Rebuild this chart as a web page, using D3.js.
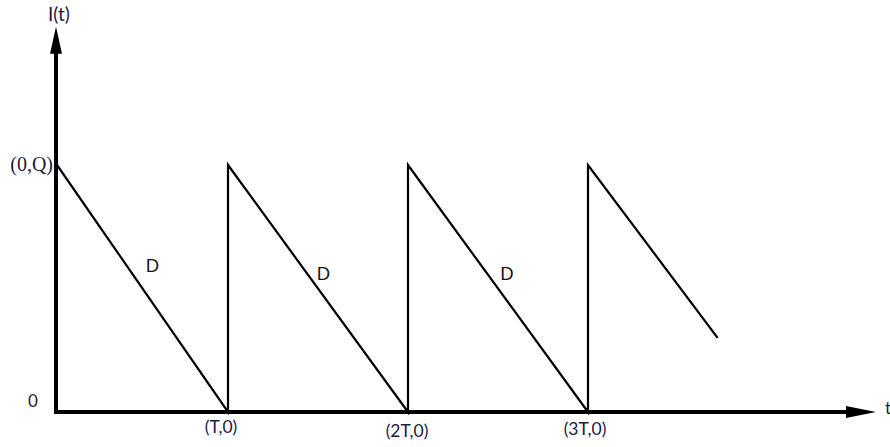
<!DOCTYPE html>
<html><head><meta charset="utf-8">
<script src="https://cdn.jsdelivr.net/npm/d3@7"></script>
<style>body{margin:0;background:#fff}svg{display:block}</style>
</head><body>
<svg id="c" width="890" height="447"></svg>
<script>
// Sawtooth inventory curve (t in units, I relative to Q)
const sawT = [0, 0.95, 0.95, 1.95, 1.95, 2.95, 2.95, 3.67];
const sawI = [1, 0, 1, 0, 1, 0, 1, 0.30];
const tickT = [0.95, 1.95, 2.95];
const tickLabels = ["(T,0)", "(2T,0)", "(3T,0)"];
const dLabelT = [0.53, 1.48, 2.50];
const dLabelI = [0.59, 0.56, 0.56];

const svg = d3.select("#c");
const x = d3.scaleLinear().domain([0, 4.55]).range([57, 876]);
const y = d3.scaleLinear().domain([0, 1]).range([412, 165]);
const tMax = 4.55, iMax = 1.56;

// axes
svg.append("line").attr("x1", x(0)-1).attr("y1", y(0)).attr("x2", x(0)-1).attr("y2", y(iMax)+20)
  .attr("stroke", "#000").attr("stroke-width", 4);
svg.append("line").attr("x1", x(0)-3).attr("y1", y(0)).attr("x2", x(tMax)-22).attr("y2", y(0))
  .attr("stroke", "#000").attr("stroke-width", 4);
// arrowheads
svg.append("path").attr("d", `M${x(0)-1},${y(iMax)} L${x(0)-7},${y(iMax)+27} L${x(0)+5},${y(iMax)+27} Z`).attr("fill", "#000");
svg.append("path").attr("d", `M${x(tMax)},${y(0)} L${x(tMax)-30},${y(0)-6} L${x(tMax)-30},${y(0)+6} Z`).attr("fill", "#000");

// sawtooth
const pts = sawT.map((t, i) => [t, sawI[i]]);
svg.append("path").datum(pts)
  .attr("d", d3.line().x(d => x(d[0])).y(d => y(d[1])))
  .attr("fill", "none").attr("stroke", "#000").attr("stroke-width", 2.2);

const sans = "Lato, 'Open Sans', sans-serif";
const col = "#1c1c40";
// labels
svg.append("text").attr("x", x(0)+2).attr("y", 21).attr("text-anchor", "middle")
  .attr("font-family", sans).attr("font-size", 19).attr("fill", col).text("I(t)");
svg.append("text").attr("x", x(0)-4).attr("y", y(1)+6).attr("text-anchor", "end")
  .attr("font-family", "'Liberation Serif', serif").attr("font-size", 20).attr("fill", col).text("(0,Q)");
svg.append("text").attr("x", 33).attr("y", 407).attr("text-anchor", "middle")
  .attr("font-family", sans).attr("font-size", 17).attr("fill", col).text("0");
svg.append("text").attr("x", 885).attr("y", 414).attr("text-anchor", "start")
  .attr("font-family", sans).attr("font-size", 17).attr("fill", col).text("t");

const tickDy = [433, 437, 435];
svg.selectAll(".tl").data(tickT).enter().append("text")
  .attr("x", (d, i) => x(d) - [7, 1, 3][i]).attr("y", (d, i) => tickDy[i])
  .attr("text-anchor", "middle").attr("font-family", sans).attr("font-size", 17.5).attr("fill", col)
  .text((d, i) => tickLabels[i]);

svg.selectAll(".dl").data(dLabelT).enter().append("text")
  .attr("x", d => x(d)).attr("y", (d, i) => y(dLabelI[i]) + 6)
  .attr("text-anchor", "middle").attr("font-family", sans).attr("font-size", 17.5).attr("fill", "#1a1010")
  .text("D");
</script>
</body></html>
